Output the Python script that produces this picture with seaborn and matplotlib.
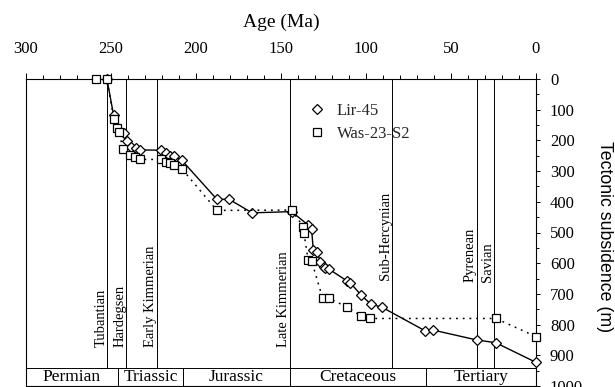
import matplotlib
matplotlib.use("Agg")
import matplotlib.pyplot as plt
from matplotlib.lines import Line2D
from matplotlib.ticker import MultipleLocator
import seaborn as sns
import pandas as pd

# ---- data ----
lir_age = [252.4, 248.5, 242.6, 240.5, 238.3, 235.5, 232.9, 220.5, 217.9, 215.3, 212.7, 208.3,
           187.7, 180.5, 167.0, 143.7, 134.0, 132.0, 131.0, 128.6, 127.0, 125.0, 124.0, 121.6,
           111.4, 109.4, 103.0, 97.3, 90.4, 65.3, 60.4, 34.9, 23.7, 0.0]
lir_sub = [0, 117, 177, 203, 220, 226, 231, 232, 241, 250, 251, 265,
           392, 392, 436, 432, 476, 490, 557, 562, 595, 611, 617, 620,
           657, 663, 703, 733, 744, 820, 818, 850, 859, 923]

was_age = [258.8, 252.5, 248.3, 246.7, 245.5, 242.8, 238.8, 235.6, 232.9, 220.8, 217.8, 215.3,
           212.7, 208.4, 187.7, 143.7, 136.9, 136.5, 134.0, 132.0, 125.5, 122.0, 111.4, 103.0,
           97.6, 23.7, 0.0]
was_sub = [0, 0, 130, 161, 173, 228, 249, 253, 262, 262, 269, 273,
           279, 292, 428, 427, 481, 503, 590, 593, 714, 714, 742, 772,
           780, 780, 839]

event_names = ["Tubantian", "Hardegsen", "Early Kimmerian", "Late Kimmerian",
               "Sub-Hercynian", "Pyrenean", "Savian"]
event_ages = [252.4, 241.0, 223.0, 145.0, 84.7, 35.0, 24.7]
event_label_bottom = [873, 873, 873, 873, 655, 660, 660]

period_names = ["Permian", "Triassic", "Jurassic", "Cretaceous", "Tertiary"]
period_bounds = [300, 246, 207.6, 145, 65, 0]

xticks = [300, 250, 200, 150, 100, 50, 0]
yticks = [0, 100, 200, 300, 400, 500, 600, 700, 800, 900, 1000]

# ---- figure ----
sns.set_theme(style="white")
plt.rcParams["font.family"] = ["Liberation Serif", "DejaVu Serif"]

fig = plt.figure(figsize=(6.15, 3.87), dpi=100)
ax = fig.add_axes([26 / 615, 1 - 386 / 387, 510 / 615, 307 / 387])

df_lir = pd.DataFrame({"age": lir_age, "sub": lir_sub})
df_was = pd.DataFrame({"age": was_age, "sub": was_sub})

sns.lineplot(data=df_lir, x="age", y="sub", ax=ax, sort=False, estimator=None,
             color="black", linewidth=1.0, linestyle="-",
             marker="D", markersize=4.8, markerfacecolor="white",
             markeredgecolor="black", markeredgewidth=0.9, zorder=4, clip_on=False)
sns.lineplot(data=df_was, x="age", y="sub", ax=ax, sort=False, estimator=None,
             color="black", linewidth=1.1, linestyle=(0, (1.2, 3.2)),
             marker="s", markersize=6.4, markerfacecolor="white",
             markeredgecolor="black", markeredgewidth=0.9, zorder=5, clip_on=False)

ax.set_xlim(300, 0)
ax.set_ylim(1000, 0)

# event lines and labels
for name, a, lb in zip(event_names, event_ages, event_label_bottom):
    ax.plot([a, a], [0, 940], color="black", lw=0.7, zorder=1)
    ax.text(a - 0.2, lb, name, rotation=90, ha="right", va="bottom",
            fontsize=10.5, color="black")

# period band
ax.plot([300, 0], [940, 940], color="black", lw=0.7, zorder=1)
for b in period_bounds[1:-1]:
    ax.plot([b, b], [940, 1000], color="black", lw=0.7, zorder=1)
for i, name in enumerate(period_names):
    mid = (period_bounds[i] + period_bounds[i + 1]) / 2
    ax.text(mid, 972, name, ha="center", va="center", fontsize=12.5, color="black")

# axes styling
for s in ["left", "right", "top", "bottom"]:
    ax.spines[s].set_visible(True)
    ax.spines[s].set_color("black")
    ax.spines[s].set_linewidth(0.8)

ax.xaxis.set_ticks_position("top")
ax.xaxis.set_label_position("top")
ax.set_xticks(xticks)
ax.set_xticklabels([str(t) for t in xticks])
ax.xaxis.set_minor_locator(MultipleLocator(10))
ax.tick_params(axis="x", which="major", direction="out", length=4, width=0.7,
               pad=12, labelsize=12, colors="black")
ax.tick_params(axis="x", which="minor", direction="out", length=3, width=0.7,
               colors="black")

ax.yaxis.set_ticks_position("right")
ax.yaxis.set_label_position("right")
ax.set_yticks(yticks)
ax.set_yticklabels([str(t) for t in yticks])
ax.yaxis.set_minor_locator(MultipleLocator(50))
ax.tick_params(axis="y", which="major", direction="out", length=3, width=0.7,
               pad=7, labelsize=12, colors="black")
ax.tick_params(axis="y", which="minor", direction="out", length=2, width=0.7,
               colors="black")

ax.set_xlabel("Age (Ma)", fontsize=14, color="black")
ax.xaxis.set_label_coords(0.5, (386 - 22) / 307)
ax.xaxis.label.set_va("center")

ax.set_ylabel("Tectonic subsidence (m)", fontsize=12.8, color="black",
              rotation=-90, family=["Liberation Sans", "DejaVu Sans"])
ax.yaxis.set_label_coords((605 - 26) / 510, (386 - 237) / 307)
ax.yaxis.label.set_va("center")
ax.yaxis.label.set_ha("center")

# legend (markers only)
handles = [
    Line2D([], [], linestyle="none", marker="D", markersize=4.8, markerfacecolor="white",
           markeredgecolor="black", markeredgewidth=0.9, label="Lir-45"),
    Line2D([], [], linestyle="none", marker="s", markersize=6.4, markerfacecolor="white",
           markeredgecolor="black", markeredgewidth=0.9, label="Was-23-S2"),
]
leg = ax.legend(handles=handles, loc="upper left",
                bbox_to_anchor=((300 - 26) / 510, (386 - 96) / 307),
                frameon=False, fontsize=12, handletextpad=0.6, labelspacing=0.45,
                borderaxespad=0, handlelength=1.2)

fig.savefig("out.png", dpi=100)
